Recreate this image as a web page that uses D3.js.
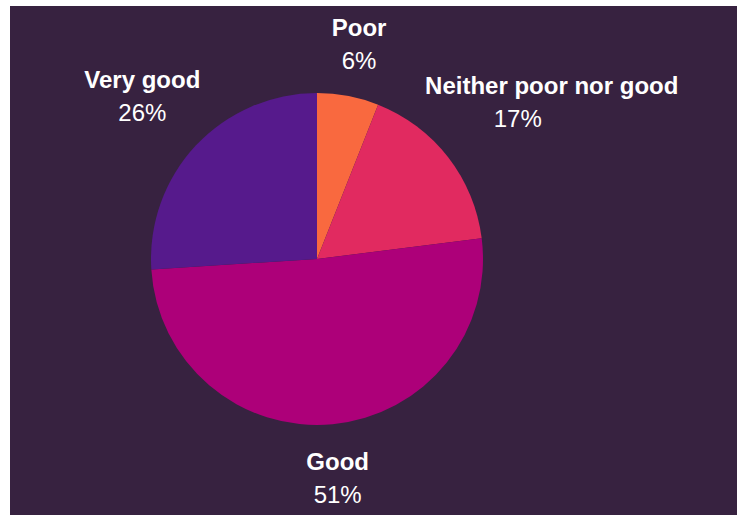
<!DOCTYPE html>
<html>
<head>
<meta charset="utf-8">
<script src="https://cdn.jsdelivr.net/npm/d3@7"></script>
<style>
  body { margin: 0; background: #ffffff; }
  text { font-family: "Liberation Sans", Arial, sans-serif; fill: #ffffff; }
</style>
</head>
<body>
<script>
// data
var categories = ["Poor", "Neither poor nor good", "Good", "Very good"];
var shares = [6, 17, 51, 26];
var sliceColors = ["#f9693f", "#e12a60", "#ad0079", "#561a8c"];

var width = 737, height = 515;
var cx = 317, cy = 259, radius = 166, labelRadius = 230;

// small per-label nudges (name dx, pct dx, dy)
var nudge = [
  { nx: -1, px: -1, dy: 3 },
  { nx: 53, px: 19, dy: -24 },
  { nx: -1, px: -1, dy: -18 },
  { nx: -7, px: -7, dy: -14 }
];

var svg = d3.select("body").append("svg")
    .attr("width", width)
    .attr("height", height);

svg.append("rect")
    .attr("x", 10).attr("y", 6)
    .attr("width", width - 10).attr("height", height - 6)
    .style("fill", "#372240");

var pie = d3.pie().sort(null).value(function (d) { return d; });
var arcs = pie(shares);

var arc = d3.arc().innerRadius(0).outerRadius(radius);
var labelArc = d3.arc().innerRadius(labelRadius).outerRadius(labelRadius);

var g = svg.append("g").attr("transform", "translate(" + cx + "," + cy + ")");

g.selectAll("path")
    .data(arcs)
    .enter()
    .append("path")
    .attr("d", arc)
    .style("fill", function (d, i) { return sliceColors[i]; });

var labels = g.selectAll("g.label")
    .data(arcs)
    .enter()
    .append("g")
    .attr("class", "label")
    .attr("transform", function (d, i) {
      var c = labelArc.centroid(d);
      return "translate(" + c[0] + "," + (c[1] + nudge[i].dy) + ")";
    });

labels.append("text")
    .attr("x", function (d, i) { return nudge[i].nx; })
    .attr("text-anchor", "middle")
    .style("font-size", "24px")
    .style("font-weight", "bold")
    .text(function (d, i) { return categories[i]; });

labels.append("text")
    .attr("x", function (d, i) { return nudge[i].px; })
    .attr("y", 33)
    .attr("text-anchor", "middle")
    .style("font-size", "24px")
    .text(function (d) { return d.data + "%"; });
</script>
</body>
</html>
